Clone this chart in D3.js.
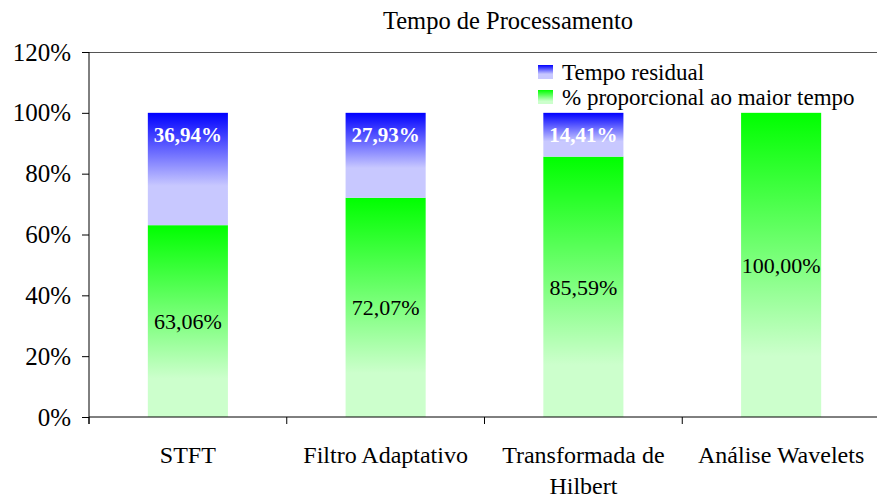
<!DOCTYPE html>
<html>
<head>
<meta charset="utf-8">
<script src="https://cdn.jsdelivr.net/npm/d3@7"></script>
<style>
  html, body { margin: 0; padding: 0; background: #fff; }
  svg { display: block; font-family: "Liberation Serif", "Times New Roman", serif; }
</style>
</head>
<body>
<svg id="chart" width="877" height="500"></svg>
<script>
const categories = ["STFT", "Filtro Adaptativo", "Transformada de Hilbert", "Análise Wavelets"];
const proportional = [63.06, 72.07, 85.59, 100.00];
const residual = [36.94, 27.93, 14.41, 0];
const seriesNames = ["Tempo residual", "% proporcional ao maior tempo"];
const yTicks = [0, 20, 40, 60, 80, 100, 120];
const chartTitle = "Tempo de Processamento";

(function() {
const svg = d3.select("#chart");
const pLeft = 89, pRight = 880, pTop = 52, pBottom = 417;

const x = d3.scaleBand().domain(categories).range([pLeft, pRight])
  .paddingInner(0.595).paddingOuter(0.2975);
const y = d3.scaleLinear().domain([0, 120]).range([pBottom, pTop]);
const fmt = v => v.toFixed(2).replace(".", ",") + "%";

const defs = svg.append("defs");
const gGreen = defs.append("linearGradient").attr("id", "gGreen")
  .attr("x1", 0).attr("y1", 0).attr("x2", 0).attr("y2", 1);
gGreen.append("stop").attr("offset", 0).attr("stop-color", "#00ff00");
gGreen.append("stop").attr("offset", 0.8).attr("stop-color", "#ccffcc");
gGreen.append("stop").attr("offset", 1).attr("stop-color", "#ccffcc");
const gBlue = defs.append("linearGradient").attr("id", "gBlue")
  .attr("x1", 0).attr("y1", 0).attr("x2", 0).attr("y2", 1);
gBlue.append("stop").attr("offset", 0).attr("stop-color", "#0000ff");
gBlue.append("stop").attr("offset", 0.65).attr("stop-color", "#c8c8ff");
gBlue.append("stop").attr("offset", 1).attr("stop-color", "#c8c8ff");

// title
svg.append("text").attr("x", 508).attr("y", 29).attr("text-anchor", "middle")
  .attr("font-size", 24.5).attr("fill", "#000").text(chartTitle);

// top frame line
svg.append("line").attr("x1", pLeft).attr("x2", 877).attr("y1", pTop + 0.5).attr("y2", pTop + 0.5)
  .attr("stroke", "#555").attr("stroke-width", 1);

// bars
const data = categories.map((c, i) => ({ c, p: proportional[i], r: residual[i] }));
svg.append("g").selectAll("rect").data(data).join("rect")
  .attr("x", d => x(d.c)).attr("width", x.bandwidth())
  .attr("y", d => y(d.p)).attr("height", d => y(0) - y(d.p))
  .attr("fill", "url(#gGreen)");
svg.append("g").selectAll("rect").data(data.filter(d => d.r > 0)).join("rect")
  .attr("x", d => x(d.c)).attr("width", x.bandwidth())
  .attr("y", d => y(d.p + d.r)).attr("height", d => y(d.p) - y(d.p + d.r))
  .attr("fill", "url(#gBlue)");

// labels
svg.append("g").selectAll("text").data(data).join("text")
  .attr("x", d => x(d.c) + x.bandwidth() / 2)
  .attr("y", d => y(d.p / 2)).attr("dy", "0.35em")
  .attr("text-anchor", "middle").attr("font-size", 22).attr("fill", "#000")
  .text(d => fmt(d.p));
svg.append("g").selectAll("text").data(data.filter(d => d.r > 0)).join("text")
  .attr("x", d => x(d.c) + x.bandwidth() / 2)
  .attr("y", d => y(d.p + d.r) + 29)
  .attr("text-anchor", "middle").attr("font-size", 21).attr("font-weight", "bold")
  .attr("fill", "#fff")
  .text(d => fmt(d.r));

// y axis
const yAxis = svg.append("g").attr("transform", `translate(${pLeft},0)`)
  .call(d3.axisLeft(y).tickValues(yTicks).tickFormat(d => d + "%").tickSize(7).tickPadding(11));
yAxis.select(".domain").attr("stroke", "#000").attr("d", `M0,${pTop}V${pBottom + 7}`);
yAxis.selectAll(".tick line").attr("stroke", "#000");
yAxis.selectAll(".tick text").attr("font-size", 25).attr("fill", "#000")
  .attr("font-family", "Liberation Serif, Times New Roman, serif");

// x axis
const xAxis = svg.append("g").attr("transform", `translate(0,${pBottom})`);
xAxis.append("line").attr("x1", pLeft).attr("x2", 877).attr("y1", 0).attr("y2", 0).attr("stroke", "#000");
const step = x.step();
xAxis.selectAll("line.tk").data(categories).join("line").attr("class", "tk")
  .attr("x1", (d, i) => pLeft + i * step).attr("x2", (d, i) => pLeft + i * step)
  .attr("y1", 0).attr("y2", 7).attr("stroke", "#000");

// category labels with wrapping
xAxis.selectAll("text.cat").data(categories).join("text").attr("class", "cat")
  .attr("text-anchor", "middle").attr("font-size", 24).attr("fill", "#000")
  .each(function(d) {
    const t = d3.select(this);
    const cx = x(d) + x.bandwidth() / 2;
    const words = d.split(" ");
    let lines = [], line = [];
    const tmp = t.append("tspan");
    words.forEach(w => {
      line.push(w);
      tmp.text(line.join(" "));
      if (tmp.node().getComputedTextLength() > 188 && line.length > 1) {
        line.pop(); lines.push(line.join(" ")); line = [w];
      }
    });
    lines.push(line.join(" "));
    tmp.remove();
    lines.forEach((l, i) => {
      t.append("tspan").attr("x", cx).attr("y", 46 + i * 31).text(l);
    });
  });

// legend
const legend = svg.append("g");
const lgFills = ["url(#gBlue)", "url(#gGreen)"];
seriesNames.forEach((n, i) => {
  const cy = 72 + i * 25;
  legend.append("rect").attr("x", 538).attr("y", cy - 7).attr("width", 15).attr("height", 14)
    .attr("fill", lgFills[i]);
  legend.append("text").attr("x", 562).attr("y", cy).attr("dy", "0.35em")
    .attr("font-size", 23).attr("fill", "#000").text(n);
});
})();
</script>
</body>
</html>
